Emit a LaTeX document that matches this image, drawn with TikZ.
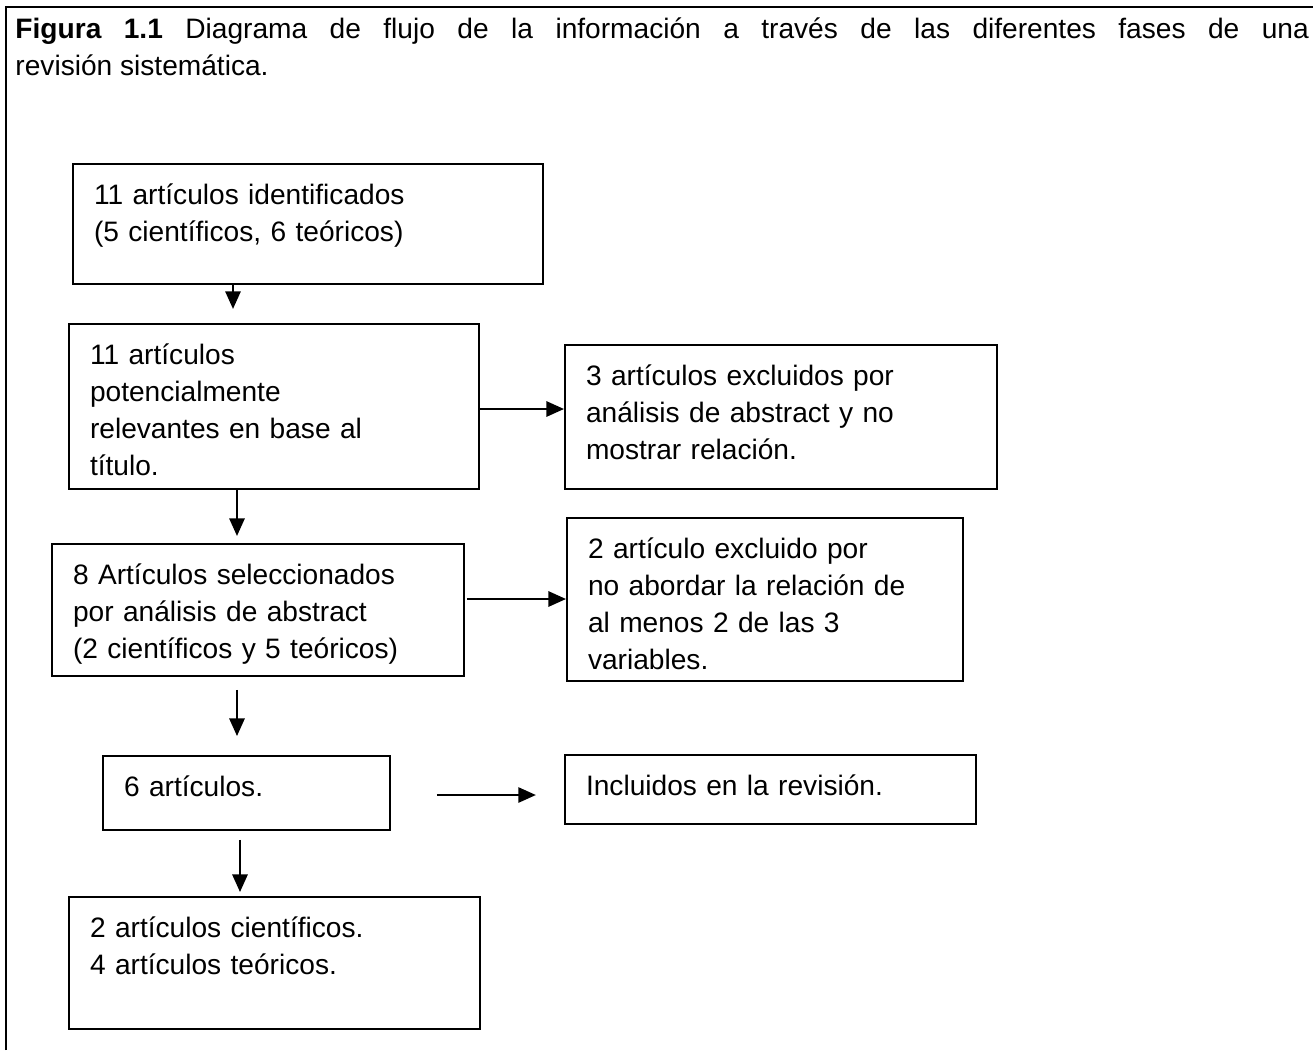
\documentclass[tikz,border=0pt]{standalone}
\usepackage{fontspec}
\setmainfont{Liberation Sans}
\usetikzlibrary{arrows.meta}

\tikzset{
  caja/.style={draw, line width=0.8pt, anchor=north west, align=left,
    inner xsep=9pt, inner ysep=0pt, text height=17.1pt},
  flecha/.style={line width=0.9pt, -{Triangle[length=7.5pt,width=6.5pt]}}
}

\begin{document}
\begin{tikzpicture}[x=0.015cm, y=-0.015cm, font=\fontsize{12}{15.8}\selectfont]

\useasboundingbox (0,0) rectangle (1313,1050);
\draw[line width=1.1pt] (6,1050) -- (6,7) -- (1313,7);

\node[anchor=base west, text width=552pt, align=justify, inner sep=0pt] (titulo) at (15,38)
  {\textbf{Figura 1.1} Diagrama de flujo de la información a través de las diferentes fases de una\linebreak revisión sistemática.};

% columna principal
\node[caja, text width=182.6pt, text depth=34.1pt] (ident) at (72,163)
  {11 artículos identificados\\(5 científicos, 6 teóricos)};
\node[caja, text width=157pt, text depth=53.4pt] (poten) at (68,323)
  {11 artículos\\potencialmente\\relevantes en base al\\título.};
\node[caja, text width=157.8pt, text depth=39.3pt] (selec) at (51,543)
  {8 Artículos seleccionados\\por análisis de abstract\\(2 científicos y 5 teóricos)};
\node[caja, text width=104.5pt, text depth=14.5pt] (seis) at (102,755)
  {6 artículos.};
\node[caja, text width=157.4pt, text depth=39.3pt] (final) at (68,896)
  {2 artículos científicos.\\4 artículos teóricos.};

% columna derecha
\node[caja, text width=166.4pt, text depth=44.4pt] (exclA) at (564,344)
  {3 artículos excluidos por\\análisis de abstract y no\\mostrar relación.};
\node[caja, text width=151pt, text depth=52.5pt] (exclB) at (566,517)
  {2 artículo excluido por\\no abordar la relación de\\al menos 2 de las 3\\variables.};
\node[caja, text width=157.4pt, text depth=12.4pt] (incl) at (564,754)
  {Incluidos en la revisión.};

% flechas
\coordinate (c1) at (233,0);
\coordinate (c2) at (237,0);
\coordinate (c3) at (240,0);
\coordinate (f2) at (0,409);
\coordinate (f4) at (0,599);
\coordinate (f6) at (0,795);

\draw[flecha, shorten >=6pt] (ident.south -| c1) -- (poten.north -| c1);
\draw[flecha] (poten.east |- f2) -- (exclA.west |- f2);
\draw[flecha, shorten >=3pt] (poten.south -| c2) -- (selec.north -| c2);
\draw[flecha, shorten <=0.9pt] (selec.east |- f4) -- (exclB.west |- f4);
\draw[flecha, shorten <=5.5pt, shorten >=8.1pt] (selec.south -| c2) -- (seis.north -| c2);
\draw[flecha, shorten <=19.6pt, shorten >=12pt] (seis.east |- f6) -- (incl.west |- f6);
\draw[flecha, shorten <=3.8pt, shorten >=1.7pt] (seis.south -| c3) -- (final.north -| c3);

\end{tikzpicture}
\end{document}
